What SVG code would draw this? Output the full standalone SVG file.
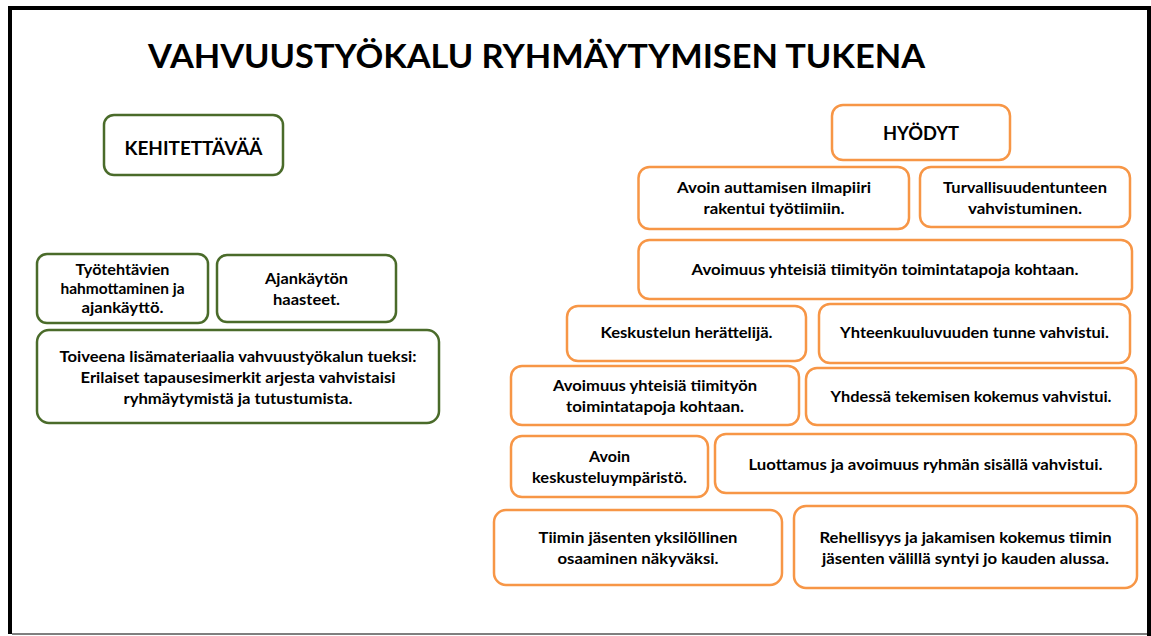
<svg xmlns="http://www.w3.org/2000/svg" width="1151" height="636" viewBox="0 0 1151 636">
<style>
text{font-family:Lato,"Liberation Sans",sans-serif;font-weight:bold;fill:#000;text-anchor:middle}
.t{font-size:16px}
.h{font-size:19px}
.title{font-size:32px;text-anchor:start}
.g{fill:#fff;stroke:#4a6b2a;stroke-width:2.5}
.o{fill:#fff;stroke:#f79646;stroke-width:2.5}
</style>
<rect x="0" y="0" width="1151" height="636" fill="#fff"/>
<g id="frame">
<path d="M10,634 V8 H1149 V636" fill="none" stroke="#000" stroke-width="4"/>
<line x1="12" y1="634" x2="1147" y2="634" stroke="#555" stroke-width="1.5"/>
</g>
<g id="title"><text class="title" x="148" y="68" textLength="777" lengthAdjust="spacingAndGlyphs">VAHVUUSTYÖKALU RYHMÄYTYMISEN TUKENA</text></g>
<g id="connectors"/>
<g id="kehitettavaa">
<rect class="g" x="104" y="115" width="179" height="60" rx="10"/>
<text class="h" x="193.5" y="154.5" textLength="138" lengthAdjust="spacingAndGlyphs">KEHITETTÄVÄÄ</text>
</g>
<g id="tyotehtavien">
<rect class="g" x="37" y="254" width="171" height="69" rx="10"/>
<text class="t" x="122.5" y="275" textLength="94" lengthAdjust="spacingAndGlyphs">Työtehtävien</text>
<text class="t" x="122.5" y="294" textLength="124" lengthAdjust="spacingAndGlyphs">hahmottaminen ja</text>
<text class="t" x="122.5" y="313" textLength="82" lengthAdjust="spacingAndGlyphs">ajankäyttö.</text>
</g>
<g id="ajankayton">
<rect class="g" x="217" y="255" width="179" height="67" rx="10"/>
<text class="t" x="306.5" y="284" textLength="83" lengthAdjust="spacingAndGlyphs">Ajankäytön</text>
<text class="t" x="306.5" y="305" textLength="67" lengthAdjust="spacingAndGlyphs">haasteet.</text>
</g>
<g id="toiveena">
<rect class="g" x="37" y="330" width="402" height="93" rx="12"/>
<text class="t" x="238" y="362" textLength="357" lengthAdjust="spacingAndGlyphs">Toiveena lisämateriaalia vahvuustyökalun tueksi:</text>
<text class="t" x="238" y="383" textLength="315" lengthAdjust="spacingAndGlyphs">Erilaiset tapausesimerkit arjesta vahvistaisi</text>
<text class="t" x="238" y="404" textLength="229" lengthAdjust="spacingAndGlyphs">ryhmäytymistä ja tutustumista.</text>
</g>
<g id="hyodyt">
<rect class="o" x="832" y="105" width="178" height="55" rx="11"/>
<text class="h" x="921" y="140" textLength="76" lengthAdjust="spacingAndGlyphs">HYÖDYT</text>
</g>
<g id="avoin-auttamisen">
<rect class="o" x="638.5" y="167" width="270.5" height="62" rx="11"/>
<text class="t" x="774" y="193" textLength="194" lengthAdjust="spacingAndGlyphs">Avoin auttamisen ilmapiiri</text>
<text class="t" x="774" y="214" textLength="141" lengthAdjust="spacingAndGlyphs">rakentui työtiimiin.</text>
</g>
<g id="turvallisuus">
<rect class="o" x="920" y="167" width="210" height="60" rx="11"/>
<text class="t" x="1025" y="193" textLength="164" lengthAdjust="spacingAndGlyphs">Turvallisuudentunteen</text>
<text class="t" x="1025" y="214" textLength="114" lengthAdjust="spacingAndGlyphs">vahvistuminen.</text>
</g>
<g id="avoimuus-1">
<rect class="o" x="638.5" y="240" width="493.5" height="59" rx="11"/>
<text class="t" x="885" y="275" textLength="387" lengthAdjust="spacingAndGlyphs">Avoimuus yhteisiä tiimityön toimintatapoja kohtaan.</text>
</g>
<g id="keskustelun">
<rect class="o" x="567" y="306" width="239" height="55" rx="11"/>
<text class="t" x="686.5" y="338" textLength="172" lengthAdjust="spacingAndGlyphs">Keskustelun herättelijä.</text>
</g>
<g id="yhteenkuuluvuus">
<rect class="o" x="819" y="304" width="311" height="59" rx="11"/>
<text class="t" x="974.5" y="338" textLength="269" lengthAdjust="spacingAndGlyphs">Yhteenkuuluvuuden tunne vahvistui.</text>
</g>
<g id="avoimuus-2">
<rect class="o" x="511" y="366" width="288" height="59" rx="11"/>
<text class="t" x="655" y="391" textLength="204" lengthAdjust="spacingAndGlyphs">Avoimuus yhteisiä tiimityön</text>
<text class="t" x="655" y="412" textLength="178" lengthAdjust="spacingAndGlyphs">toimintatapoja kohtaan.</text>
</g>
<g id="yhdessa">
<rect class="o" x="806" y="368" width="330" height="57" rx="11"/>
<text class="t" x="971" y="402" textLength="281" lengthAdjust="spacingAndGlyphs">Yhdessä tekemisen kokemus vahvistui.</text>
</g>
<g id="avoin-keskustelu">
<rect class="o" x="511" y="436" width="197" height="61" rx="11"/>
<text class="t" x="609.5" y="462" textLength="41" lengthAdjust="spacingAndGlyphs">Avoin</text>
<text class="t" x="609.5" y="483" textLength="155" lengthAdjust="spacingAndGlyphs">keskusteluympäristö.</text>
</g>
<g id="luottamus">
<rect class="o" x="715" y="434" width="421" height="59" rx="11"/>
<text class="t" x="925.5" y="470" textLength="354" lengthAdjust="spacingAndGlyphs">Luottamus ja avoimuus ryhmän sisällä vahvistui.</text>
</g>
<g id="tiimin">
<rect class="o" x="494" y="510" width="288" height="75" rx="12"/>
<text class="t" x="638" y="543" textLength="199" lengthAdjust="spacingAndGlyphs">Tiimin jäsenten yksilöllinen</text>
<text class="t" x="638" y="564" textLength="161" lengthAdjust="spacingAndGlyphs">osaaminen näkyväksi.</text>
</g>
<g id="rehellisyys">
<rect class="o" x="794" y="506" width="343" height="82" rx="12"/>
<text class="t" x="965.5" y="543" textLength="292" lengthAdjust="spacingAndGlyphs">Rehellisyys ja jakamisen kokemus tiimin</text>
<text class="t" x="965.5" y="564" textLength="287" lengthAdjust="spacingAndGlyphs">jäsenten välillä syntyi jo kauden alussa.</text>
</g>
</svg>
